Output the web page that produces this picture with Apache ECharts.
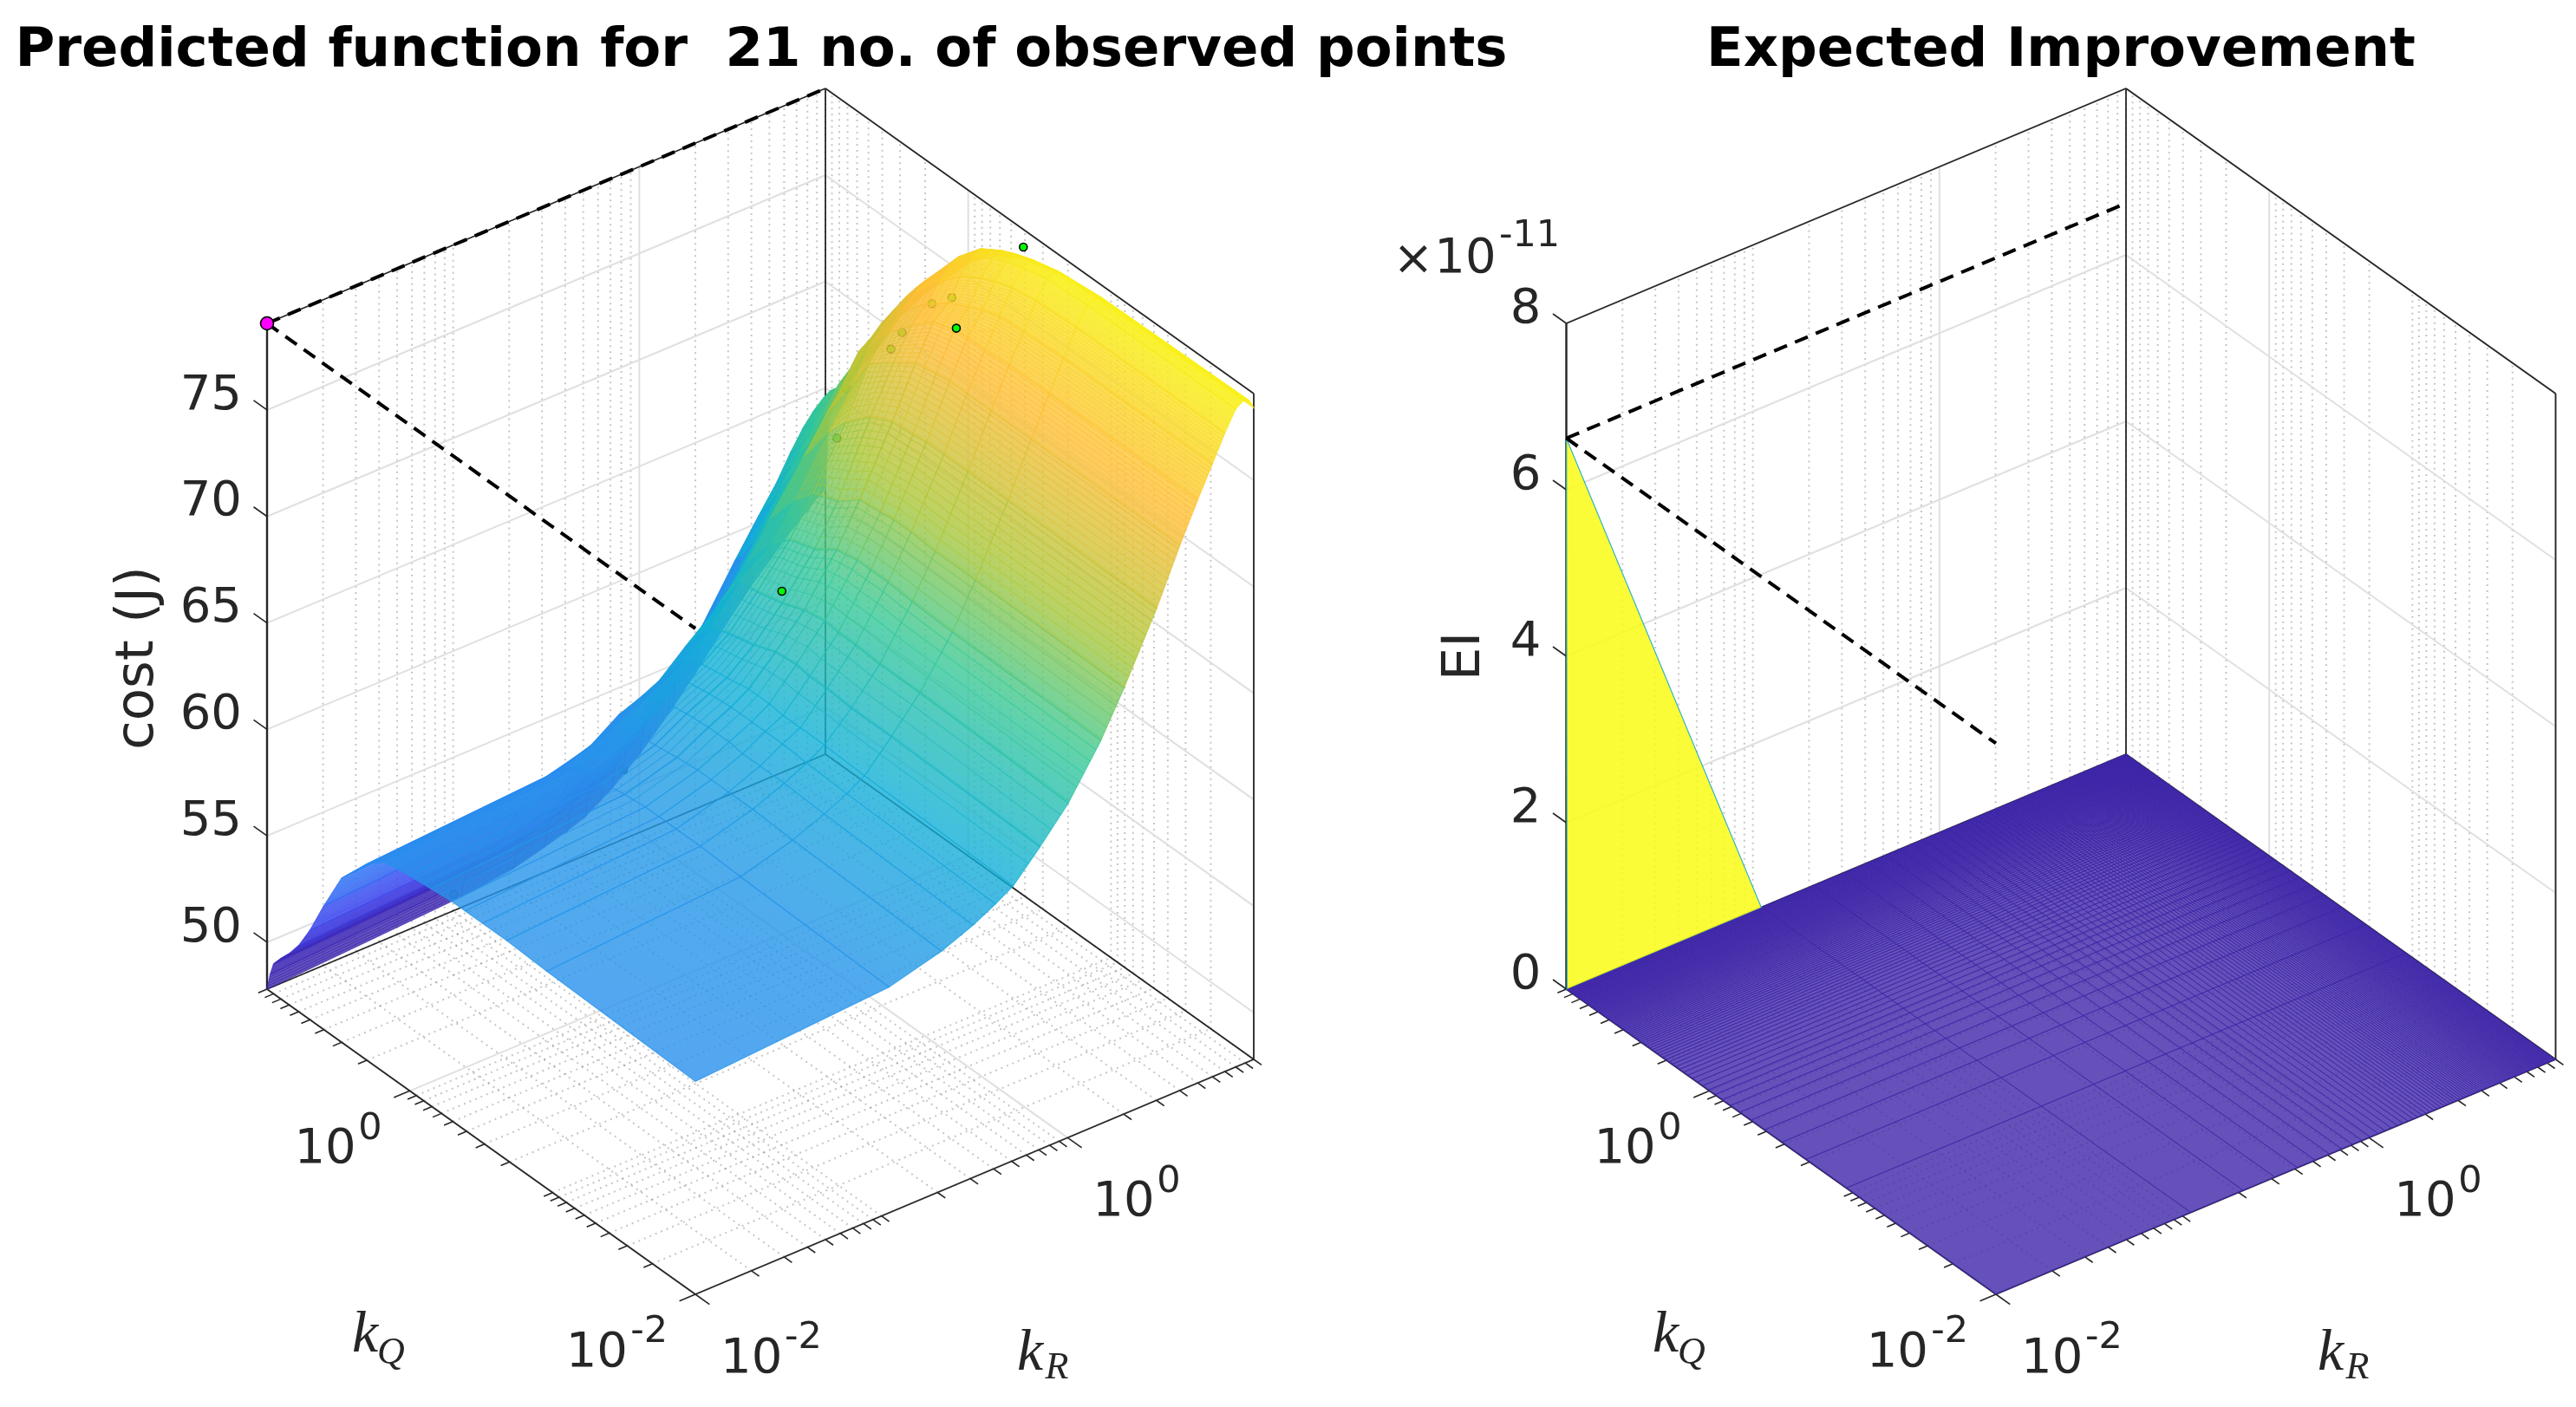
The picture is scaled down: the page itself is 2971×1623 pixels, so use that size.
<!DOCTYPE html>
<html><head><meta charset="utf-8">
<style>html,body{margin:0;padding:0;background:#fff}#c{width:2971px;height:1623px}</style>
<script src="https://cdn.jsdelivr.net/npm/echarts@6/dist/echarts.min.js"></script>
</head><body><div id="c"></div>
<script>
// ---------- DATA ----------
const titleLeft = 'Predicted function for  21 no. of observed points';
const titleRight = 'Expected Improvement';
const costTicks = [50, 55, 60, 65, 70, 75];
const eiTicks = [0, 2e-11, 4e-11, 6e-11, 8e-11];
const kMajorTicks = [0.01, 1];
const kMinorTicks = [0.02,0.03,0.04,0.05,0.06,0.07,0.08,0.09,0.1,0.2,0.3,0.4,0.5,0.6,0.7,0.8,0.9,2,3,4,5,6,7,8,9,10];
const kGrid = [0.01,0.11,0.21,0.31,0.41,0.51,0.71,1.01,1.51,2.01,3.01,4.01,5.01,6.01,7.01,8.01,9.01,9.51,10];
// predicted cost: one row per kR in kGrid, one column per kQ in kGrid
const costByKR = [
[57.8,58.0,58.1,58.1,58.1,58.1,58.0,57.9,57.7,57.0,55.5,53.6,52.0,50.9,50.2,49.7,49.2,48.6,47.8],
[58.4,58.6,58.7,58.7,58.7,58.7,58.6,58.4,58.3,57.6,56.1,54.2,52.5,51.4,50.7,50.2,49.7,49.1,48.3],
[59.05,59.3,59.4,59.4,59.4,59.4,59.3,59.15,59.0,58.5,56.7,54.7,53.0,51.8,51.1,50.6,50.1,49.4,48.6],
[59.65,59.9,60.0,60.0,60.0,60.1,60.1,60.0,59.8,59.2,57.7,55.5,53.8,52.5,51.7,51.0,50.6,49.9,49.0],
[60.2,60.4,60.5,60.6,60.6,60.6,60.6,60.5,60.3,59.7,58.1,56.0,54.2,52.9,52.0,51.5,50.9,50.3,49.3],
[60.7,60.9,61.0,61.0,61.0,61.1,61.1,60.9,60.7,60.3,58.5,56.3,54.6,53.3,52.4,51.8,51.3,50.6,49.6],
[62.0,62.2,62.2,62.3,62.3,62.4,62.3,61.9,61.6,61.3,59.6,57.4,55.6,54.3,53.4,52.8,52.2,51.5,50.4],
[63.5,63.7,63.7,63.8,63.8,63.9,63.7,63.3,63.0,62.9,60.7,58.6,56.8,55.6,54.6,54.0,53.5,52.7,51.5],
[65.8,65.9,66.0,66.1,66.1,66.1,65.9,65.2,64.8,64.0,62.3,60.4,58.6,57.4,56.5,55.8,55.2,54.4,53.0],
[67.8,67.9,67.9,68.0,68.0,67.9,67.8,67.0,66.5,65.6,63.9,62.0,60.2,58.9,57.9,57.3,56.6,55.8,54.2],
[70.9,71.0,71.0,71.0,71.0,70.9,70.8,70.3,69.2,68.1,66.1,63.9,62.4,61.2,60.2,59.5,59.0,57.9,56.0],
[73.4,73.4,73.4,73.4,73.4,73.3,73.1,72.4,71.5,69.8,67.7,65.4,64.0,63.0,61.9,61.3,60.6,59.5,57.2],
[75.2,75.2,75.2,75.1,75.1,75.0,74.7,73.8,72.6,71.4,68.8,66.4,65.0,64.2,63.2,62.5,61.8,60.6,58.0],
[76.6,76.6,76.5,76.4,76.1,75.8,75.3,74.5,73.4,72.1,70.0,67.7,66.2,65.1,64.2,63.5,63.0,61.6,58.7],
[77.8,77.8,77.7,77.5,77.2,76.9,76.3,75.3,73.9,72.6,70.4,68.3,67.0,65.9,65.0,64.4,63.9,62.4,59.2],
[78.7,78.6,78.5,78.2,77.9,77.6,77.0,75.9,74.3,73.0,70.9,68.9,67.6,66.6,65.5,65.0,64.5,62.9,59.6],
[79.0,78.8,78.7,78.4,78.1,77.8,77.2,76.1,74.4,73.2,71.1,69.1,68.0,67.0,65.9,65.5,64.9,63.4,60.0],
[78.8,78.7,78.5,78.2,77.9,77.6,77.0,75.9,74.2,73.0,70.9,69.1,67.9,67.0,65.9,65.5,64.9,63.5,60.1],
[78.4,78.3,78.2,77.9,77.7,77.3,76.7,75.6,73.9,72.8,70.8,69.0,67.8,66.9,65.9,65.4,65.0,63.5,60.2]
];
// observed points [kR, kQ, cost]
const observedBehind = [[5.01,0.73,75.49],[5.01,0.528,76.45],[5.01,1.18,73.15],[5.01,1.41,72.0],[5.01,3.38,66.0],[0.316,2.88,55.18],[0.04,3.0,52.53],[7.08,4.55,67.14]];
const observedFront = [[10,0.411,78.24],[5.01,0.492,75.16],[5.01,8.2,56.97]];
const nextPointCost = [0.01,10,79.07];
const nextPointEI = [0.01,10,6.62e-11];
// expected improvement: zero on the whole 100 x 100 mesh apart from this one node
const eiMeshStart = 0.01, eiMeshStep = 0.1009, eiMeshCount = 100;
const eiPeak = {iR:0, iQ:99, value:6.62e-11};

// ---------- LAYOUT ----------
const K_MIN=-2, K_SPAN=3;
const P1 = {fx:802,fy:1493,ex:[644,-271],ey:[-494,-352],zMin:47.8,zMax:79.07,h:768};
const P2 = {fx:2302,fy:1493,ex:[645.5,-271],ey:[-495.5,-352],zMin:0,zMax:8e-11,h:768};
const FF='"DejaVu Sans"', INK='#262626';
const kPos = k => (Math.log10(k)-K_MIN)/K_SPAN;
function project(P,kR,kQ,z){
  const u=kPos(kR),v=kPos(kQ);
  return [P.fx+P.ex[0]*u+P.ey[0]*v, P.fy+P.ex[1]*u+P.ey[1]*v-(z-P.zMin)*P.h/(P.zMax-P.zMin)];
}
const C_STOPS=[[0,62,38,168],[0.07,64,46,192],[0.14,68,72,240],[0.25,46,135,247],[0.3,42,142,238],[0.4,18,177,214],[0.52,55,200,151],[0.64,171,199,57],[0.8,254,190,56],[0.88,250,215,40],[0.95,249,245,25],[1,249,251,21]];
function parula(t,a){
  t=Math.max(0,Math.min(1,t));
  let i=0; while(i<C_STOPS.length-2&&t>C_STOPS[i+1][0])i++;
  const s=C_STOPS[i],e=C_STOPS[i+1],f=(t-s[0])/(e[0]-s[0]);
  const m=n=>Math.round(s[n]+(e[n]-s[n])*f);
  return 'rgba('+m(1)+','+m(2)+','+m(3)+','+a+')';
}
const costColor=(z,a)=>parula((z-P1.zMin)/33,a);

// ---------- FRAME ----------
function frameItem(P,zTicks,labelFor,api,extra){
  const pt=(r,q,z)=>api.coord(project(P,r,q,z));
  const kids=[];
  const line=(a,b,stroke,lw,dash)=>kids.push({type:'line',shape:{x1:a[0],y1:a[1],x2:b[0],y2:b[1]},style:{stroke,lineWidth:lw,lineDash:dash||null,fill:null}});
  const kLo=0.01,kHi=10,zL=P.zMin,zH=P.zMax;
  const gridFor=(k,stroke,lw,dash)=>{
    line(pt(k,kLo,zL),pt(k,kHi,zL),stroke,lw,dash);
    line(pt(kLo,k,zL),pt(kHi,k,zL),stroke,lw,dash);
    line(pt(k,kHi,zL),pt(k,kHi,zH),stroke,lw,dash);
    line(pt(kHi,k,zL),pt(kHi,k,zH),stroke,lw,dash);
  };
  kMinorTicks.forEach(k=>gridFor(k,'rgba(120,120,120,0.42)',2,[2,5]));
  kMajorTicks.forEach(k=>gridFor(k,'#e0e0e0',2));
  zTicks.forEach(z=>{
    line(pt(kLo,kHi,z),pt(kHi,kHi,z),'#e0e0e0',2);
    line(pt(kHi,kHi,z),pt(kHi,kLo,z),'#e0e0e0',2);
  });
  const e=(a,b,w)=>line(a,b,INK,w||1.8);
  e(pt(kLo,kHi,zL),pt(kLo,kHi,zH),2.4);
  e(pt(kHi,kHi,zL),pt(kHi,kHi,zH));
  e(pt(kHi,kLo,zL),pt(kHi,kLo,zH));
  e(pt(kLo,kHi,zH),pt(kHi,kHi,zH));
  e(pt(kHi,kHi,zH),pt(kHi,kLo,zH));
  e(pt(kLo,kHi,zL),pt(kHi,kHi,zL));
  e(pt(kHi,kHi,zL),pt(kHi,kLo,zL));
  e(pt(kLo,kLo,zL),pt(kLo,kHi,zL));
  e(pt(kLo,kLo,zL),pt(kHi,kLo,zL));
  const nx=(v,L)=>{const n=Math.hypot(v[0],v[1]);return [v[0]/n*L,v[1]/n*L];};
  const tick=(k,L)=>{
    const a=pt(kLo,k,zL),b=pt(k,kLo,zL),tq=nx(P.ex,-L),tr=nx(P.ey,-L);
    line(a,[a[0]+tq[0],a[1]+tq[1]],INK,1.6);
    line(b,[b[0]+tr[0],b[1]+tr[1]],INK,1.6);
  };
  kMinorTicks.forEach(k=>tick(k,11));
  kMajorTicks.forEach(k=>tick(k,20));
  zTicks.forEach(z=>{
    const a=pt(kLo,kHi,z),t=nx(P.ey,19);
    line(a,[a[0]+t[0],a[1]+t[1]],INK,1.6);
    kids.push({type:'text',x:a[0]-29,y:a[1]-16,style:{text:labelFor(z),font:'56px '+FF,fill:INK,align:'right',verticalAlign:'middle'}});
  });
  kMajorTicks.forEach(k=>{
    const sup=String(Math.round(Math.log10(k)));
    const a=pt(kLo,k,zL),b=pt(k,kLo,zL);
    const sw=sup.length>1?46:30;
    kids.push({type:'text',x:a[0]-32-sw,y:a[1]+68,style:{text:'10',font:'56px '+FF,fill:INK,align:'right',verticalAlign:'middle'}});
    kids.push({type:'text',x:a[0]-32,y:a[1]+44,style:{text:sup,font:'43px '+FF,fill:INK,align:'right',verticalAlign:'middle'}});
    kids.push({type:'text',x:b[0]+29,y:b[1]+75,style:{text:'10',font:'56px '+FF,fill:INK,align:'left',verticalAlign:'middle'}});
    kids.push({type:'text',x:b[0]+29+74,y:b[1]+51,style:{text:sup,font:'43px '+FF,fill:INK,align:'left',verticalAlign:'middle'}});
  });
  const f=pt(kLo,kLo,zL);
  const math=(dx,dy,t,size)=>kids.push({type:'text',x:f[0]+dx,y:f[1]+dy,style:{text:t,font:'italic '+size+'px "Liberation Serif"',fill:INK,align:'center',verticalAlign:'middle'}});
  math(-381,48,'k',68); math(-351,68,'Q',44);
  math(386,69,'k',68); math(417,85,'R',44);
  extra(kids,api);
  return {type:'group',children:kids};
}
const dashedTo=(P,pk,api)=>{
  const a=api.coord(project(P,pk[0],pk[1],pk[2]));
  const b=api.coord(project(P,10,pk[1],pk[2]));
  const c=api.coord(project(P,pk[0],0.01,pk[2]));
  const st={stroke:'#000',lineWidth:4,lineDash:[16,10],fill:null};
  return [{type:'line',shape:{x1:a[0],y1:a[1],x2:b[0],y2:b[1]},style:st},
          {type:'line',shape:{x1:a[0],y1:a[1],x2:c[0],y2:c[1]},style:st}];
};

// ---------- SURFACE ROWS (far cells first) ----------
const costCells=[];
for(let i=kGrid.length-2;i>=0;i--)for(let j=kGrid.length-2;j>=0;j--){
  costCells.push([kGrid[i],kGrid[j],kGrid[i+1],kGrid[j+1],costByKR[i][j],costByKR[i+1][j],costByKR[i+1][j+1],costByKR[i][j+1]]);
}
const eiCells=[];
const eiK=i=>eiMeshStart+eiMeshStep*i;
const eiAt=(i,j)=>(i===eiPeak.iR&&j===eiPeak.iQ)?eiPeak.value:0;
for(let i=eiMeshCount-2;i>=0;i--)for(let j=eiMeshCount-2;j>=0;j--){
  eiCells.push([eiK(i),eiK(j),eiK(i+1),Math.min(10,eiK(j+1)),eiAt(i,j),eiAt(i+1,j),eiAt(i+1,j+1),eiAt(i,j+1)]);
}
// wireframe spacing of the plotted mesh, drawn across each facet
function meshFractions(k0,k1){
  const out=[];
  const a=kPos(k0),b=kPos(k1);
  for(let m=1;m<100;m++){
    const k=eiMeshStart+eiMeshStep*m;
    if(k>k0+0.005&&k<k1-0.005) out.push((kPos(k)-a)/(b-a));
  }
  return out;
}

function renderCost(params,api){
  const r0=api.value(0),q0=api.value(1),r1=api.value(2),q1=api.value(3);
  const z=[api.value(4),api.value(5),api.value(6),api.value(7)];
  const p=[api.coord(project(P1,r0,q0,z[0])),api.coord(project(P1,r1,q0,z[1])),api.coord(project(P1,r1,q1,z[2])),api.coord(project(P1,r0,q1,z[3]))];
  const zc=(z[0]+z[1]+z[2]+z[3])/4, cx=(p[0][0]+p[1][0]+p[2][0]+p[3][0])/4, cy=(p[0][1]+p[1][1]+p[2][1]+p[3][1])/4;
  const Ax=(p[1][0]+p[2][0]-p[0][0]-p[3][0])/2,Ay=(p[1][1]+p[2][1]-p[0][1]-p[3][1])/2;
  const Bx=(p[2][0]+p[3][0]-p[0][0]-p[1][0])/2,By=(p[2][1]+p[3][1]-p[0][1]-p[1][1])/2;
  const dA=(z[1]+z[2]-z[0]-z[3])/2,dB=(z[2]+z[3]-z[0]-z[1])/2;
  const det=Ax*By-Ay*Bx;
  let fill=costColor(zc,0.8);
  if(Math.abs(det)>1){
    const gx=(dA*By-dB*Ay)/det,gy=(Ax*dB-Bx*dA)/det,g=Math.hypot(gx,gy);
    if(g>1e-6){
      const nx=gx/g,ny=gy/g;
      let lo=1e9,hi=-1e9;
      p.forEach(q=>{const t=(q[0]-cx)*nx+(q[1]-cy)*ny;lo=Math.min(lo,t);hi=Math.max(hi,t);});
      const zMinC=Math.min.apply(null,z),zMaxC=Math.max.apply(null,z);
      const zA=Math.max(zMinC,zc+g*lo),zB=Math.min(zMaxC,zc+g*hi);
      if(hi-lo>0.5){
        const stops=[0,0.25,0.5,0.75,1].map(o=>({offset:o,color:costColor(zA+(zB-zA)*o,0.8)}));
        fill=new echarts.graphic.LinearGradient(cx+nx*lo,cy+ny*lo,cx+nx*hi,cy+ny*hi,stops,true);
      }
    }
  }
  const kids=[{type:'polygon',shape:{points:p},style:{fill,stroke:costColor(zc,0.75),lineWidth:1.1}}];
  const lerp=(a,b,s)=>[a[0]+(b[0]-a[0])*s,a[1]+(b[1]-a[1])*s];
  const wire=(a,b,s)=>kids.push({type:'line',shape:{x1:a[0],y1:a[1],x2:b[0],y2:b[1]},style:{stroke:s,lineWidth:1.1,fill:null}});
  const wireColor=costColor(zc,0.7);
  meshFractions(r0,r1).forEach(s=>wire(lerp(p[0],p[1],s),lerp(p[3],p[2],s),wireColor));
  meshFractions(q0,q1).forEach(s=>wire(lerp(p[0],p[3],s),lerp(p[1],p[2],s),wireColor));
  return {type:'group',children:kids};
}
function renderEI(params,api){
  const r0=api.value(0),q0=api.value(1),r1=api.value(2),q1=api.value(3);
  const z=[api.value(4),api.value(5),api.value(6),api.value(7)];
  const p=[project(P2,r0,q0,z[0]),project(P2,r1,q0,z[1]),project(P2,r1,q1,z[2]),project(P2,r0,q1,z[3])].map(c=>api.coord(c));
  const top=Math.max.apply(null,z)>0;
  return {type:'polygon',shape:{points:p},style:top?{fill:'rgba(249,251,21,0.85)',stroke:'rgba(30,170,200,0.9)',lineWidth:1.2}:{fill:'rgba(62,38,168,0.8)',stroke:'rgba(62,38,168,0.8)',lineWidth:1}};
}
const dotItem=(P,api,fill,r)=>{
  const c=api.coord(project(P,api.value(0),api.value(1),api.value(2)));
  return {type:'circle',shape:{cx:c[0],cy:c[1],r},style:{fill,stroke:'#000',lineWidth:1.6}};
};

const custom=(data,renderItem,extra)=>Object.assign({type:'custom',coordinateSystem:'cartesian2d',xAxisIndex:0,yAxisIndex:0,data,renderItem,silent:true,clip:false,animation:false,progressive:0},extra||{});

const chart=echarts.init(document.getElementById('c'),null,{renderer:'canvas',width:2971,height:1623});
chart.setOption({
  animation:false,backgroundColor:'#fff',
  grid:{left:0,right:0,top:0,bottom:0},
  xAxis:{type:'value',min:0,max:2971,show:false},
  yAxis:{type:'value',min:0,max:1623,inverse:true,show:false},
  title:[
    {text:titleLeft,left:873,top:23,textAlign:'center',textStyle:{fontFamily:'DejaVu Sans',fontWeight:'bold',fontSize:62.5,color:'#000'}},
    {text:titleRight,left:2372,top:23,textAlign:'center',textStyle:{fontFamily:'DejaVu Sans',fontWeight:'bold',fontSize:62.5,color:'#000'}}
  ],
  series:[
    custom([[0,0]],(p,api)=>frameItem(P1,costTicks,z=>String(z),api,(kids,a)=>{
      const c=a.coord([160,759]);
      kids.push({type:'text',x:c[0],y:c[1],rotation:Math.PI/2,style:{text:'cost (J)',font:'61px '+FF,fill:INK,align:'center',verticalAlign:'middle'}});
    })),
    custom(observedBehind,(p,api)=>dotItem(P1,api,'#00ff00',4.5)),
    custom(costCells,renderCost),
    custom([[0,0]],(p,api)=>({type:'group',children:dashedTo(P1,nextPointCost,api)})),
    custom(observedFront,(p,api)=>dotItem(P1,api,'#00ff00',4.5)),
    custom([nextPointCost],(p,api)=>dotItem(P1,api,'#ff00ff',7.5)),
    custom([[0,0]],(p,api)=>frameItem(P2,eiTicks,z=>String(Math.round(z*1e11)),api,(kids,a)=>{
      const at=c=>a.coord(c);
      kids.push({type:'text',x:at([1690,757])[0],y:at([1690,757])[1],rotation:Math.PI/2,style:{text:'EI',font:'61px '+FF,fill:INK,align:'center',verticalAlign:'middle'}});
      kids.push({type:'text',x:at([1630,301])[0],y:at([1630,301])[1],style:{text:'×',font:'56px '+FF,fill:INK,align:'center',verticalAlign:'middle'}});
      kids.push({type:'text',x:at([1690,299])[0],y:at([1690,299])[1],style:{text:'10',font:'56px '+FF,fill:INK,align:'center',verticalAlign:'middle'}});
      kids.push({type:'text',x:at([1764,273])[0],y:at([1764,273])[1],style:{text:'-11',font:'43px '+FF,fill:INK,align:'center',verticalAlign:'middle'}});
    })),
    custom(eiCells,renderEI),
    custom([[0,0]],(p,api)=>({type:'group',children:dashedTo(P2,nextPointEI,api)}))
  ]
});
</script></body></html>
